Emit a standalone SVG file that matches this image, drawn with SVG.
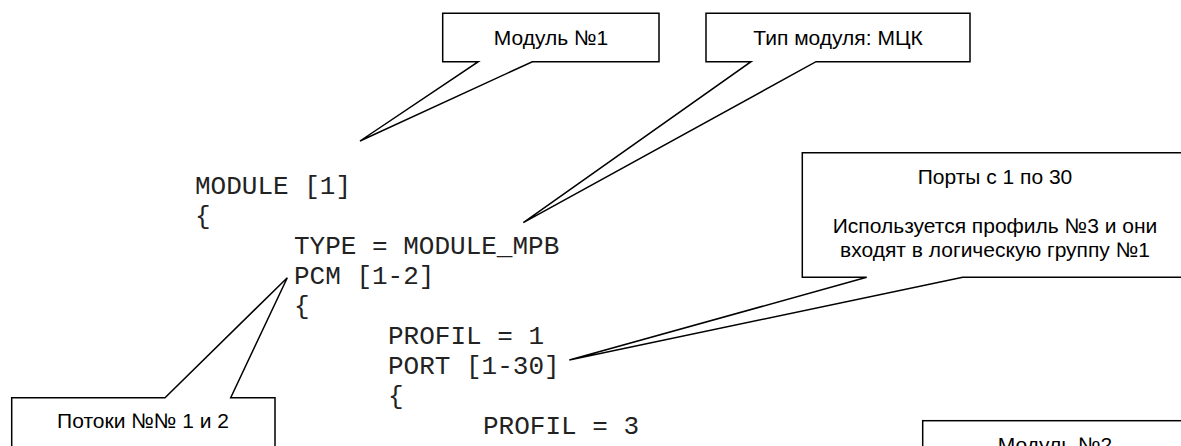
<svg xmlns="http://www.w3.org/2000/svg" width="1181" height="446" viewBox="0 0 1181 446">
<style>
.co{fill:#fff;stroke:#000;stroke-width:1.5;stroke-linejoin:miter}
.lbl{font-family:"Liberation Sans",Arial,sans-serif;font-size:21px;fill:#000;text-anchor:middle}
.code{font-family:"Liberation Mono","Courier New",monospace;font-size:26px;fill:#222;white-space:pre}
</style>
<rect width="1181" height="446" fill="#fff"/>
<g id="code">
<text class="code" x="195" y="194">MODULE [1]</text>
<text class="code" x="195" y="224">{</text>
<text class="code" x="294" y="254">TYPE = MODULE_MPB</text>
<text class="code" x="294" y="284">PCM [1-2]</text>
<text class="code" x="294" y="314">{</text>
<text class="code" x="388" y="344">PROFIL = 1</text>
<text class="code" x="388" y="374">PORT [1-30]</text>
<text class="code" x="388" y="404">{</text>
<text class="code" x="483" y="434">PROFIL = 3</text>
</g>
<g id="connectors"></g>
<g id="callout-module1">
<path class="co" d="M442.7,13.3 H659 V61.7 H532.3 L360,141 L478.3,61.7 H442.7 Z"/>
<text class="lbl" x="551" y="45">Модуль №1</text>
</g>
<g id="callout-type">
<path class="co" d="M706,13.3 H970 V61.7 H816 L523.3,222.7 L751,61.7 H706 Z"/>
<text class="lbl" x="838" y="45">Тип модуля: МЦК</text>
</g>
<g id="callout-ports">
<path class="co" d="M802.3,152.7 H1190 V277.3 H962.7 L569.3,360 L866.7,277.3 H802.3 Z"/>
<text class="lbl" x="995" y="184">Порты с 1 по 30</text>
<text class="lbl" x="995" y="233">Используется профиль №3 и они</text>
<text class="lbl" x="995" y="257">входят в логическую группу №1</text>
</g>
<g id="callout-streams">
<path class="co" d="M11.7,397.7 H165 L287.3,277.7 L230.7,397.7 H275 V470 H11.7 Z"/>
<text class="lbl" x="143" y="428">Потоки №№ 1 и 2</text>
</g>
<g id="callout-module2">
<rect class="co" x="922.7" y="420.7" width="266" height="60"/>
<text class="lbl" x="1055" y="452">Модуль №2</text>
</g>
</svg>
